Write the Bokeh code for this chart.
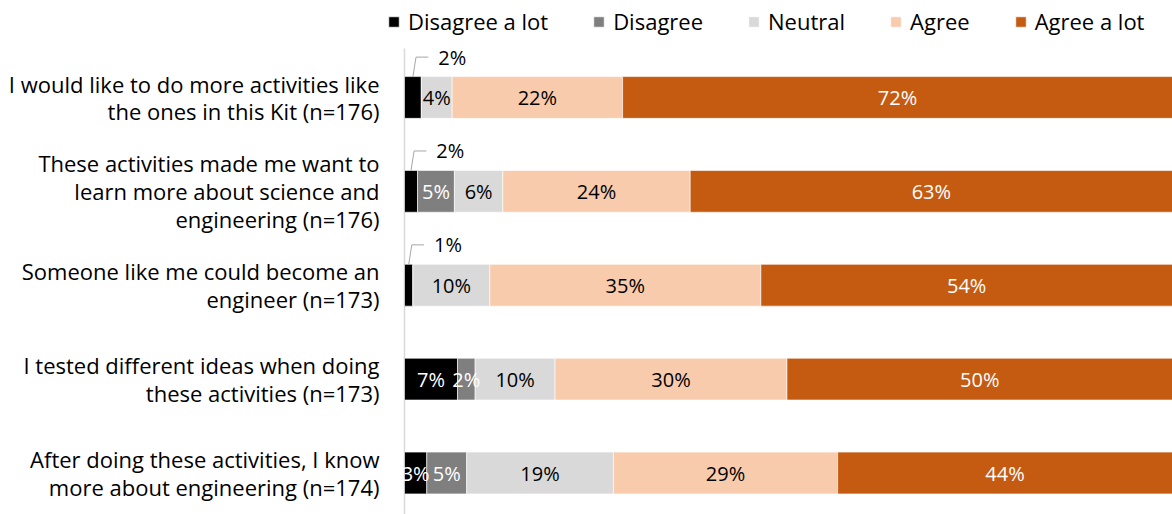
from bokeh.plotting import figure
from bokeh.models import ColumnDataSource, Range1d, FixedTicker, Legend, LegendItem
from bokeh.core.properties import value
from bokeh.embed import file_html
from bokeh.resources import INLINE

# ---------------- data ----------------
statements = [
    "I would like to do more activities like\nthe ones in this Kit (n=176)",
    "These activities made me want to\nlearn more about science and\nengineering (n=176)",
    "Someone like me could become an\nengineer (n=173)",
    "I tested different ideas when doing\nthese activities (n=173)",
    "After doing these activities, I know\nmore about engineering (n=174)",
]
responses = ["Disagree a lot", "Disagree", "Neutral", "Agree", "Agree a lot"]
disagree_a_lot = [2.2, 1.7, 1.1, 6.9, 2.9]
disagree = [0.0, 4.8, 0.0, 2.3, 5.2]
neutral = [4.0, 6.3, 10.0, 10.4, 19.1]
agree = [22.2, 24.4, 35.3, 30.2, 29.2]
agree_a_lot = [71.6, 62.8, 53.6, 50.2, 43.6]

# ---------------- style ----------------
colors = ["#000000", "#7f7f7f", "#d9d9d9", "#f8cbad", "#c55a11"]
label_colors = ["white", "white", "black", "black", "white"]
FONT = "Open Sans"
FS_CAT = "22px"
FS_LAB = "20px"

series = [disagree_a_lot, disagree, neutral, agree, agree_a_lot]
keys = ["s0", "s1", "s2", "s3", "s4"]
ypos = [-i for i in range(len(statements))]
BAR_H = 0.445
Y_TOP, Y_BOT, AXIS_TOP = 1.033, -4.442, 0.522
X0 = -2.734

src = ColumnDataSource(dict(y=ypos, **{k: v for k, v in zip(keys, series)}))

p = figure(width=1172, height=514, x_range=Range1d(X0, 100), y_range=Range1d(Y_BOT, Y_TOP),
           output_backend="svg", toolbar_location=None,
           min_border_left=383, min_border_right=0, min_border_top=0, min_border_bottom=0)
p.outline_line_color = None
p.xgrid.visible = False
p.ygrid.visible = False
p.xaxis.visible = False

# value axis line (x = 0)
p.segment(x0=[0], y0=[AXIS_TOP], x1=[0], y1=[Y_BOT], line_color="#d9d9d9", line_width=1.5)

renderers = p.hbar_stack(keys, y="y", height=BAR_H, color=colors, source=src,
                         line_color="white", line_width=0.6)

yax = p.yaxis[0]
yax.ticker = FixedTicker(ticks=ypos)
yax.major_label_overrides = {y: s for y, s in zip(ypos, statements)}
yax.axis_line_color = None
yax.major_tick_line_color = None
yax.major_tick_out = 0
yax.major_tick_in = 0
yax.minor_tick_line_color = None
yax.major_label_standoff = 4
yax.major_label_text_font = FONT
yax.major_label_text_font_size = FS_CAT
yax.major_label_text_color = "black"
yax.major_label_text_line_height = 0.93

# in-bar labels and callout labels
lx, ly, lt, lc = [], [], [], []
cx, cy, ct = [], [], []
mxs, mys = [], []
for r in range(len(statements)):
    left = 0.0
    for s in range(len(series)):
        v = series[s][r]
        txt = f"{round(v)}%"
        if v > 0:
            if s == 0 and v < 2.5:
                mid = left + v / 2
                y0 = ypos[r] + BAR_H / 2
                mxs.append([mid, mid + 0.4, mid + 2.0])
                mys.append([y0, ypos[r] + 0.43, ypos[r] + 0.43])
                cx.append(mid + 3.3)
                cy.append(ypos[r] + 0.43)
                ct.append(txt)
            else:
                lx.append(left + v / 2)
                ly.append(ypos[r])
                lt.append(txt)
                lc.append(label_colors[s])
        left += v

p.text(x=lx, y=ly, text=lt, text_color=lc, text_align="center", text_baseline="middle",
       text_font=value(FONT), text_font_size=FS_LAB)
p.multi_line(xs=mxs, ys=mys, line_color="#a6a6a6", line_width=1)
p.text(x=cx, y=cy, text=ct, text_color="black", text_align="left", text_baseline="middle",
       text_font=value(FONT), text_font_size=FS_LAB)

legend = Legend(items=[LegendItem(label=n, renderers=[r]) for n, r in zip(responses, renderers)],
                orientation="horizontal", location=(4, 478),
                border_line_color=None, background_fill_alpha=0,
                padding=0, margin=0, spacing=44, label_standoff=8,
                glyph_width=13, glyph_height=13,
                label_text_font=FONT, label_text_font_size=FS_CAT, label_text_color="black")
p.add_layout(legend)

open("out.html", "w").write(file_html(p, INLINE))
